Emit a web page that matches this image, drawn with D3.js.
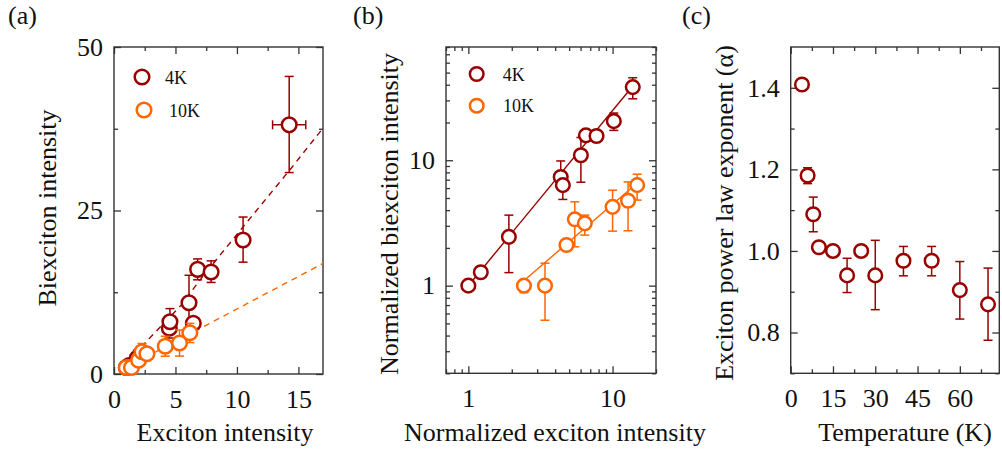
<!DOCTYPE html>
<html>
<head>
<meta charset="utf-8">
<script src="https://cdn.jsdelivr.net/npm/d3@7"></script>
<style>
  body { margin: 0; background: #fff; }
  svg { display: block; }
  text { font-family: "Liberation Serif", "Times New Roman", serif; fill: #111; }
</style>
</head>
<body>
<svg id="chart"></svg>
<script>
// ---- panel (a): linear axes ----
const a4kX    = [1.0, 1.22, 1.9, 4.5, 4.55, 6.1, 6.45, 6.8, 7.9, 10.5, 14.25];
const a4kY    = [1.0, 1.28, 2.45, 7.0, 8.0, 10.9, 7.75, 16.0, 15.6, 20.5, 38.1];
const a4kYLo  = [null, null, 1.27, 5.5, 7.4, 6.7, null, 14.4, 14.0, 17.1, 30.8];
const a4kYHi  = [null, null, 3.65, 7.8, 10.0, 15.1, null, 17.6, 17.3, 24.0, 45.5];
const a4kXLo  = [null, null, null, null, null, null, null, null, null, null, 12.9];
const a4kXHi  = [null, null, null, null, null, null, null, null, null, null, 15.6];
const a10kX   = [1.0, 1.42, 2.0, 2.28, 2.68, 4.17, 5.33, 6.17];
const a10kY   = [1.0, 1.0, 2.1, 3.4, 3.1, 4.25, 4.75, 6.3];
const a10kYLo = [0.9, 0.53, null, 2.04, 2.53, 2.72, 2.74, 4.81];
const a10kYHi = [null, 1.51, null, 4.66, 3.65, 5.77, 6.72, 7.74];
// dashed fit lines
const a4kFitX  = [1.0, 2.5, 5.5, 7.0, 10.5, 14.3, 17.0];
const a4kFitY  = [1.7, 4.7, 10.6, 14.4, 22.5, 31.2, 37.6];
const a10kFitX = [1.0, 17.0];
const a10kFitY = [1.0, 16.9];
const aXTicks = [0, 5, 10, 15];
const aYTicks = [0, 25, 50];

// ---- panel (b): log-log axes ----
const b4kX    = [1.0, 1.22, 1.91, 4.37, 4.52, 6.03, 6.53, 7.74, 10.2, 13.8];
const b4kY    = [1.0, 1.28, 2.45, 7.36, 6.33, 10.96, 15.8, 15.6, 20.5, 38.3];
const b4kYLo  = [null, null, 1.27, null, 4.87, 6.68, 14.3, 14.0, 17.3, 30.9];
const b4kYHi  = [null, null, 3.65, 9.87, null, 15.2, 17.5, 17.3, 23.8, 45.5];
const b10kX   = [2.43, 3.40, 4.79, 5.47, 6.42, 10.0, 12.8, 14.8];
const b10kY   = [1.0, 1.0, 2.11, 3.38, 3.14, 4.25, 4.75, 6.33];
const b10kYLo = [0.88, 0.53, null, 2.04, 2.53, 2.72, 2.74, 4.81];
const b10kYHi = [null, 1.51, null, 4.66, 3.65, 5.77, 6.72, 7.74];
const b4kFitX  = [1.05, 14.7];
const b4kFitY  = [1.07, 42.7];
const b10kFitX = [2.55, 14.7];
const b10kFitY = [1.15, 6.53];
const bTicks = [1, 10];

// ---- panel (c): exponent vs temperature ----
const cTemp  = [4, 6, 8, 10, 15, 20, 25, 30, 40, 50, 60, 70];
const cAlpha = [1.408, 1.185, 1.09, 1.009, 1.0, 0.94, 1.0, 0.94, 0.976, 0.976, 0.904, 0.869];
const cLo    = [null, 1.165, 1.047, null, null, 0.898, null, 0.856, 0.939, 0.939, 0.833, 0.781];
const cHi    = [null, 1.204, 1.132, null, null, 0.982, null, 1.026, 1.011, 1.011, 0.974, 0.958];
const cXTicks = [0, 15, 30, 45, 60];
const cYTicks = [0.8, 1.0, 1.2, 1.4];

const DARK = '#990000';
const ORANGE = '#ff6600';
const AXIS = '#333';

const width = 1002, height = 454;
const svg = d3.select('#chart').attr('width', width).attr('height', height);
svg.append('rect').attr('width', width).attr('height', height).attr('fill', '#fff');

function zipPoints(xs, ys, lo, hi, xlo, xhi) {
    return xs.map((x, i) => ({
        x: x, y: ys[i],
        lo: lo ? lo[i] : null, hi: hi ? hi[i] : null,
        xlo: xlo ? xlo[i] : null, xhi: xhi ? xhi[i] : null
    }));
}

function drawFrame(x, y, box, opts) {
    const g = svg.append('g');
    const styleAxis = sel => {
        sel.select('.domain').remove();
        sel.selectAll('line').attr('stroke', AXIS).attr('stroke-width', 1.3);
    };
    const major = 7, minor = 4;

    // bottom
    g.append('g').attr('transform', `translate(0,${box.y1})`)
        .call(d3.axisBottom(x).tickValues(opts.xMajor).tickSize(-major).tickFormat(opts.xFormat))
        .call(styleAxis)
        .selectAll('text')
        .attr('y', 34).attr('dy', 0)
        .attr('font-size', '26px').attr('fill', '#111');
    g.append('g').attr('transform', `translate(0,${box.y1})`)
        .call(d3.axisBottom(x).tickValues(opts.xMinor).tickSize(-minor).tickFormat(''))
        .call(styleAxis);
    // top
    g.append('g').attr('transform', `translate(0,${box.y0})`)
        .call(d3.axisTop(x).tickValues(opts.xMajor).tickSize(-major).tickFormat(''))
        .call(styleAxis);
    g.append('g').attr('transform', `translate(0,${box.y0})`)
        .call(d3.axisTop(x).tickValues(opts.xMinor).tickSize(-minor).tickFormat(''))
        .call(styleAxis);
    // left
    g.append('g').attr('transform', `translate(${box.x0},0)`)
        .call(d3.axisLeft(y).tickValues(opts.yMajor).tickSize(-major).tickPadding(11).tickFormat(opts.yFormat))
        .call(styleAxis)
        .selectAll('text')
        .attr('font-size', '26px').attr('fill', '#111');
    g.append('g').attr('transform', `translate(${box.x0},0)`)
        .call(d3.axisLeft(y).tickValues(opts.yMinor).tickSize(-minor).tickFormat(''))
        .call(styleAxis);
    // right
    g.append('g').attr('transform', `translate(${box.x1},0)`)
        .call(d3.axisRight(y).tickValues(opts.yMajor).tickSize(-major).tickFormat(''))
        .call(styleAxis);
    g.append('g').attr('transform', `translate(${box.x1},0)`)
        .call(d3.axisRight(y).tickValues(opts.yMinor).tickSize(-minor).tickFormat(''))
        .call(styleAxis);

    g.append('rect')
        .attr('x', box.x0).attr('y', box.y0)
        .attr('width', box.x1 - box.x0).attr('height', box.y1 - box.y0)
        .attr('fill', 'none').attr('stroke', AXIS).attr('stroke-width', 1.4);
}

function drawSeries(g, x, y, pts, color, r) {
    const cap = 4.5;
    const withY = pts.filter(d => d.lo !== null || d.hi !== null);
    const withX = pts.filter(d => d.xlo !== null);

    const eg = g.append('g').attr('stroke', color).attr('stroke-width', 1.5).attr('fill', 'none');
    withY.forEach(d => {
        const top = y(d.hi !== null ? d.hi : d.y);
        const bot = y(d.lo !== null ? d.lo : d.y);
        eg.append('line').attr('x1', x(d.x)).attr('x2', x(d.x)).attr('y1', top).attr('y2', bot);
        if (d.hi !== null) eg.append('line').attr('x1', x(d.x) - cap).attr('x2', x(d.x) + cap).attr('y1', top).attr('y2', top);
        if (d.lo !== null) eg.append('line').attr('x1', x(d.x) - cap).attr('x2', x(d.x) + cap).attr('y1', bot).attr('y2', bot);
    });
    withX.forEach(d => {
        const cy = y(d.y);
        eg.append('line').attr('x1', x(d.xlo)).attr('x2', x(d.xhi)).attr('y1', cy).attr('y2', cy);
        eg.append('line').attr('x1', x(d.xlo)).attr('x2', x(d.xlo)).attr('y1', cy - cap).attr('y2', cy + cap);
        eg.append('line').attr('x1', x(d.xhi)).attr('x2', x(d.xhi)).attr('y1', cy - cap).attr('y2', cy + cap);
    });

    g.append('g').selectAll('circle')
        .data(pts)
        .enter()
        .append('circle')
        .attr('cx', d => x(d.x))
        .attr('cy', d => y(d.y))
        .attr('r', r)
        .attr('fill', '#fff')
        .attr('stroke', color)
        .attr('stroke-width', 2.5);
}

function drawFit(g, x, y, xs, ys, color, dashed) {
    const line = d3.line().x(d => x(d[0])).y(d => y(d[1]));
    g.append('path')
        .datum(xs.map((v, i) => [v, ys[i]]))
        .attr('d', line)
        .attr('fill', 'none')
        .attr('stroke', color)
        .attr('stroke-width', 1.4)
        .attr('stroke-dasharray', dashed ? '6,5' : null);
}

function drawLegend(cx, cy, tx, labels, colors, r) {
    labels.forEach((lab, i) => {
        svg.append('circle')
            .attr('cx', cx[i]).attr('cy', cy[i]).attr('r', r)
            .attr('fill', '#fff').attr('stroke', colors[i]).attr('stroke-width', 2.5);
        svg.append('text')
            .attr('x', tx[i]).attr('y', cy[i] + 6.5)
            .attr('font-size', '18px')
            .text(lab);
    });
}

function xTitle(cx, label) {
    svg.append('text').attr('x', cx).attr('y', 441)
        .attr('text-anchor', 'middle').attr('font-size', '26px').text(label);
}
function yTitle(bx, cy, label) {
    svg.append('text').attr('transform', `translate(${bx},${cy}) rotate(-90)`)
        .attr('text-anchor', 'middle').attr('font-size', '26px').text(label);
}
function panelTag(x, label) {
    svg.append('text').attr('x', x).attr('y', 23.5).attr('font-size', '26px').text(label);
}

// ===== Panel (a) =====
const boxA = { x0: 114, x1: 323, y0: 47, y1: 374 };
const xA = d3.scaleLinear().domain([0, 17]).range([boxA.x0, boxA.x1]);
const yA = d3.scaleLinear().domain([0, 50]).range([boxA.y1, boxA.y0]);
drawFrame(xA, yA, boxA, {
    xMajor: aXTicks, xMinor: d3.range(2.5, 17, 5), xFormat: d3.format('d'),
    yMajor: aYTicks, yMinor: [12.5, 37.5], yFormat: d3.format('d')
});
const gA = svg.append('g');
drawFit(gA, xA, yA, a4kFitX, a4kFitY, DARK, true);
drawFit(gA, xA, yA, a10kFitX, a10kFitY, ORANGE, true);
drawSeries(gA, xA, yA, zipPoints(a4kX, a4kY, a4kYLo, a4kYHi, a4kXLo, a4kXHi), DARK, 7.3);
drawSeries(gA, xA, yA, zipPoints(a10kX, a10kY, a10kYLo, a10kYHi), ORANGE, 7.3);
drawLegend([142, 144], [77, 110], [165, 169], ['4K', '10K'], [DARK, ORANGE], 7.3);
xTitle(225, 'Exciton intensity');
yTitle(56, 208, 'Biexciton intensity');
panelTag(8, '(a)');

// ===== Panel (b) =====
const boxB = { x0: 446, x1: 656, y0: 47, y1: 373.3 };
const xB = d3.scaleLog().domain([0.7, 20]).range([boxB.x0, boxB.x1]);
const yB = d3.scaleLog().domain([0.2, 80]).range([boxB.y1, boxB.y0]);
const isDecade = v => Math.abs(Math.log10(v) - Math.round(Math.log10(v))) < 1e-9;
drawFrame(xB, yB, boxB, {
    xMajor: bTicks, xMinor: xB.ticks().filter(v => !isDecade(v)), xFormat: d3.format('d'),
    yMajor: bTicks, yMinor: yB.ticks().filter(v => !isDecade(v)), yFormat: d3.format('d')
});
const gB = svg.append('g');
drawFit(gB, xB, yB, b4kFitX, b4kFitY, DARK, false);
drawFit(gB, xB, yB, b10kFitX, b10kFitY, ORANGE, false);
drawSeries(gB, xB, yB, zipPoints(b4kX, b4kY, b4kYLo, b4kYHi), DARK, 6.8);
drawSeries(gB, xB, yB, zipPoints(b10kX, b10kY, b10kYLo, b10kYHi), ORANGE, 6.8);
drawLegend([476.7, 476.7], [74, 105.7], [502.7, 503], ['4K', '10K'], [DARK, ORANGE], 6.8);
xTitle(555, 'Normalized exciton intensity');
yTitle(398, 214, 'Normalized biexciton intensity');
panelTag(353, '(b)');

// ===== Panel (c) =====
const boxC = { x0: 790.7, x1: 999.3, y0: 47, y1: 373.3 };
const xC = d3.scaleLinear().domain([0, 74]).range([boxC.x0, boxC.x1]);
const yC = d3.scaleLinear().domain([0.7, 1.5]).range([boxC.y1, boxC.y0]);
drawFrame(xC, yC, boxC, {
    xMajor: cXTicks, xMinor: d3.range(7.5, 74, 15), xFormat: d3.format('d'),
    yMajor: cYTicks, yMinor: [0.7, 0.9, 1.1, 1.3], yFormat: d3.format('.1f')
});
const gC = svg.append('g');
drawSeries(gC, xC, yC, zipPoints(cTemp, cAlpha, cLo, cHi), DARK, 6.8);
xTitle(905, 'Temperature (K)');
yTitle(733, 213, 'Exciton power law exponent (\u03b1)');
panelTag(682, '(c)');
</script>
</body>
</html>
